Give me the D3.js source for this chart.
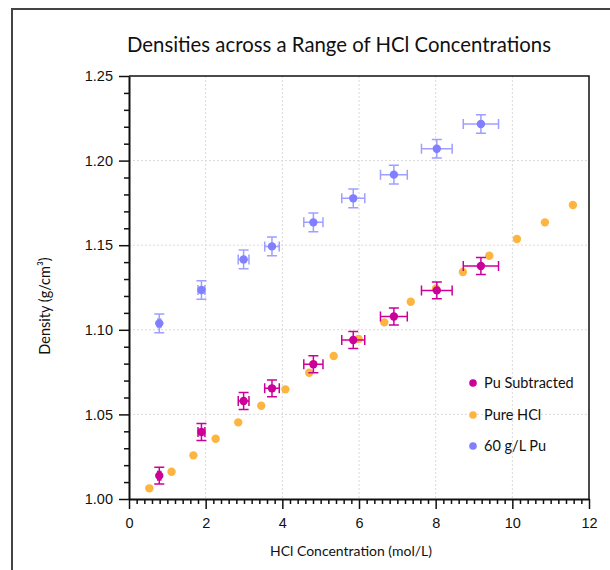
<!DOCTYPE html>
<html>
<head>
<meta charset="utf-8">
<script src="https://cdn.jsdelivr.net/npm/d3@7"></script>
<style>
  html, body { margin: 0; padding: 0; background: #fff; }
  svg { display: block; }
</style>
</head>
<body>
<div id="chart"></div>
<script>
// ---- data ----
const titleText = "Densities across a Range of HCl Concentrations";
const xLabel = "HCl Concentration (mol/L)";
const yLabel = "Density (g/cm³)";
const seriesNames = ["Pu Subtracted", "Pure HCl", "60 g/L Pu"];
const seriesColors = ["#cc0099", "#fdb53f", "#7f7fff"];

const xTicks = [0, 2, 4, 6, 8, 10, 12];
const yTicks = [1.00, 1.05, 1.10, 1.15, 1.20, 1.25];

const pureX = [0.53, 1.11, 1.68, 2.26, 2.85, 3.45, 4.08, 4.70, 5.34, 5.99, 6.66, 7.35, 8.01, 8.71, 9.40, 10.12, 10.85, 11.58];
const pureY = [1.0063, 1.0161, 1.0258, 1.0356, 1.0453, 1.0551, 1.0648, 1.0746, 1.0845, 1.0946, 1.1044, 1.1166, 1.1245, 1.1342, 1.1438, 1.1537, 1.1635, 1.1738];

const puX = [0.79, 1.89, 2.99, 3.73, 4.81, 5.85, 6.91, 8.03, 9.18];
const puXErr = [0.04, 0.09, 0.14, 0.19, 0.25, 0.30, 0.35, 0.40, 0.46];
const subY = [1.0138, 1.0396, 1.0579, 1.0654, 1.0796, 1.0940, 1.1079, 1.1233, 1.1377];
const subYErr = [0.005, 0.005, 0.005, 0.005, 0.005, 0.005, 0.005, 0.005, 0.005];
const pu60Y = [1.1038, 1.1235, 1.1416, 1.1493, 1.1635, 1.1777, 1.1917, 1.2070, 1.2216];
const pu60YErr = [0.0055, 0.0055, 0.0055, 0.0055, 0.0055, 0.0055, 0.0055, 0.0055, 0.0055];

// ---- layout ----
const W = 610, H = 570;
const m = { left: 129, top: 76, right: 21, bottom: 71 };
const iw = W - m.left - m.right, ih = H - m.top - m.bottom;
const sansM = "Lato, 'Open Sans', sans-serif";
const sansA = "'Liberation Sans', Arial, sans-serif";

const svg = d3.select("#chart").append("svg").attr("width", W).attr("height", H);

// outer frame (cropped at right/bottom)
svg.append("path").attr("d", `M12,${H + 5} L12,9 L${W + 5},9`)
  .attr("fill", "none").attr("stroke", "#444").attr("stroke-width", 2);

const x = d3.scaleLinear().domain([0, 12]).range([0, iw]);
const y = d3.scaleLinear().domain([1.0, 1.25]).range([ih, 0]);

const g = svg.append("g").attr("transform", `translate(${m.left},${m.top})`);

// grid
g.append("g").selectAll("line").data(xTicks.slice(1, -1)).join("line")
  .attr("x1", d => x(d)).attr("x2", d => x(d)).attr("y1", 0).attr("y2", ih)
  .attr("stroke", "#d9d9d9").attr("stroke-width", 1).attr("stroke-dasharray", "2,2");
g.append("g").selectAll("line").data(yTicks.slice(1, -1)).join("line")
  .attr("y1", d => y(d)).attr("y2", d => y(d)).attr("x1", 0).attr("x2", iw)
  .attr("stroke", "#d9d9d9").attr("stroke-width", 1).attr("stroke-dasharray", "2,2");

// minor ticks
const xMinor = d3.range(0, 12.001, 0.2).filter(v => Math.abs(v / 2 - Math.round(v / 2)) > 1e-6);
const yMinor = d3.range(1.0, 1.2501, 0.01).filter(v => Math.abs(v / 0.05 - Math.round(v / 0.05)) > 1e-6);
g.append("g").attr("transform", `translate(0,${ih})`)
  .call(d3.axisBottom(x).tickValues(xMinor).tickSize(5).tickFormat(""))
  .call(a => a.select(".domain").remove())
  .call(a => a.selectAll("line").attr("stroke", "#111").attr("stroke-width", 1.5));
g.append("g")
  .call(d3.axisLeft(y).tickValues(yMinor).tickSize(5).tickFormat(""))
  .call(a => a.select(".domain").remove())
  .call(a => a.selectAll("line").attr("stroke", "#111").attr("stroke-width", 1.5));

// major axes
g.append("g").attr("transform", `translate(0,${ih})`)
  .call(d3.axisBottom(x).tickValues(xTicks).tickSize(10).tickSizeOuter(0).tickPadding(9).tickFormat(d3.format("d")))
  .call(a => a.select(".domain").attr("stroke", "#111").attr("stroke-width", 2))
  .call(a => a.selectAll("line").attr("stroke", "#111").attr("stroke-width", 1.5))
  .call(a => a.selectAll("text").attr("font-family", sansA).attr("font-size", 14.5).attr("fill", "#111"));
g.append("g")
  .call(d3.axisLeft(y).tickValues(yTicks).tickSize(10).tickSizeOuter(0).tickPadding(6).tickFormat(d3.format(".2f")))
  .call(a => a.select(".domain").attr("stroke", "#111").attr("stroke-width", 2))
  .call(a => a.selectAll("line").attr("stroke", "#111").attr("stroke-width", 1.5))
  .call(a => a.selectAll("text").attr("font-family", sansA).attr("font-size", 14.5).attr("fill", "#111"));

// top & right border
g.append("path").attr("d", `M0,0 H${iw} V${ih}`).attr("fill", "none")
  .attr("stroke", "#111").attr("stroke-width", 1.5);

// error bars helper
function errorBars(xs, ys, xe, ye, color, opacity) {
  const eg = g.append("g").attr("stroke", color).attr("stroke-width", 1.5).attr("opacity", opacity).attr("fill", "none");
  const cap = 5;
  xs.forEach((xv, i) => {
    const cx = x(xv), cy = y(ys[i]);
    const y0 = y(ys[i] - ye[i]), y1 = y(ys[i] + ye[i]);
    const x0 = x(xv - xe[i]), x1 = x(xv + xe[i]);
    let d = `M${cx},${y0}V${y1}M${cx - cap},${y0}H${cx + cap}M${cx - cap},${y1}H${cx + cap}`;
    d += `M${x0},${cy}H${x1}M${x0},${cy - cap}V${cy + cap}M${x1},${cy - cap}V${cy + cap}`;
    eg.append("path").attr("d", d);
  });
}

// 60 g/L Pu
errorBars(puX, pu60Y, puXErr, pu60YErr, "#8080ff", 0.75);
g.append("g").selectAll("circle").data(puX).join("circle")
  .attr("cx", d => x(d)).attr("cy", (d, i) => y(pu60Y[i])).attr("r", 4.2)
  .attr("fill", seriesColors[2]);

// Pure HCl
g.append("g").selectAll("circle").data(pureX).join("circle")
  .attr("cx", d => x(d)).attr("cy", (d, i) => y(pureY[i])).attr("r", 4.2)
  .attr("fill", seriesColors[1]);

// Pu Subtracted
errorBars(puX, subY, puXErr, subYErr, "#cc0099", 1);
g.append("g").selectAll("circle").data(puX).join("circle")
  .attr("cx", d => x(d)).attr("cy", (d, i) => y(subY[i])).attr("r", 4.2)
  .attr("fill", seriesColors[0]);

// legend
const lg = svg.append("g").attr("transform", "translate(473,383)");
seriesNames.forEach((n, i) => {
  const yy = [0, 32, 63][i];
  lg.append("circle").attr("cx", 0).attr("cy", yy).attr("r", 3.8).attr("fill", seriesColors[i]);
  lg.append("text").attr("x", 11).attr("y", yy + 5).text(n)
    .attr("font-family", sansM).attr("font-size", 14.5).attr("fill", "#111");
});

// title & labels
svg.append("text").attr("x", 339).attr("y", 52).attr("text-anchor", "middle")
  .attr("font-family", sansM).attr("font-size", 21.5).attr("fill", "#111")
  .attr("textLength", 424).attr("lengthAdjust", "spacingAndGlyphs").text(titleText);
svg.append("text").attr("x", 351).attr("y", 556).attr("text-anchor", "middle")
  .attr("font-family", sansM).attr("font-size", 14).attr("fill", "#111").text(xLabel);
svg.append("text").attr("transform", "translate(50,306) rotate(-90)").attr("text-anchor", "middle")
  .attr("font-family", sansM).attr("font-size", 14.5).attr("fill", "#111").text(yLabel);
</script>
</body>
</html>
